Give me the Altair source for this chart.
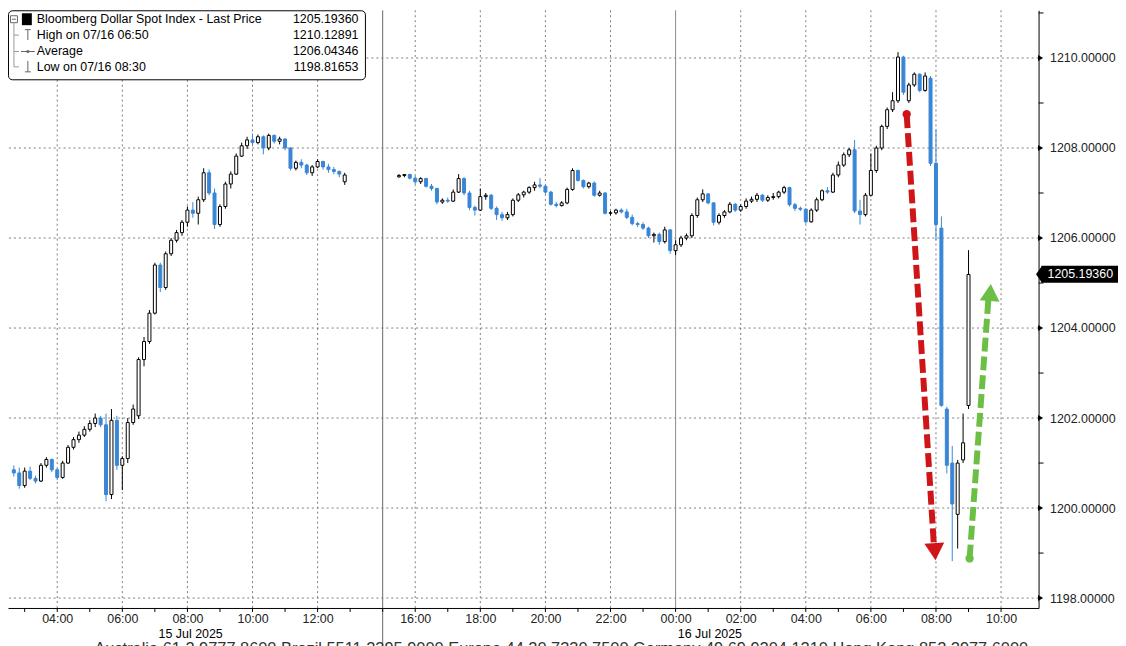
import altair as alt
import pandas as pd

# ---------------- data (10-minute bars) ----------------
SESSION1 = ("2025-07-15 02:40", "2025-07-15 12:50")
SESSION2 = ("2025-07-15 15:30", "2025-07-16 09:00")

open1 = [1200.85, 1200.78, 1200.50, 1200.82, 1200.66, 1200.60, 1200.95, 1201.08, 1200.85, 1200.68,
         1201.00, 1201.35, 1201.52, 1201.62, 1201.75, 1201.88, 1202.00, 1201.85, 1200.30, 1201.95,
         1200.95, 1201.10, 1201.90, 1202.05, 1203.30, 1203.70, 1204.33, 1205.40, 1204.90, 1205.65,
         1205.95, 1206.12, 1206.35, 1206.62, 1206.55, 1206.85, 1207.45, 1207.00, 1206.30, 1206.70,
         1207.20, 1207.42, 1207.82, 1208.05, 1208.18, 1208.12, 1208.25, 1208.00, 1208.28, 1208.15,
         1208.20, 1208.00, 1207.55, 1207.68, 1207.62, 1207.45, 1207.58, 1207.70, 1207.58, 1207.52,
         1207.48, 1207.25]
high1 = [1200.95, 1200.90, 1200.90, 1200.92, 1200.72, 1201.00, 1201.13, 1201.10, 1200.88, 1201.05,
         1201.40, 1201.58, 1201.70, 1201.82, 1201.95, 1202.10, 1202.05, 1202.10, 1202.20, 1202.05,
         1201.15, 1202.00, 1202.30, 1203.35, 1203.80, 1204.40, 1205.45, 1205.45, 1205.70, 1206.00,
         1206.18, 1206.40, 1206.70, 1206.80, 1206.92, 1207.55, 1207.52, 1207.10, 1206.75, 1207.25,
         1207.48, 1207.88, 1208.12, 1208.25, 1208.32, 1208.30, 1208.28, 1208.32, 1208.30, 1208.25,
         1208.22, 1208.02, 1207.72, 1207.75, 1207.65, 1207.62, 1207.75, 1207.72, 1207.65, 1207.58,
         1207.50, 1207.45]
low1 = [1200.70, 1200.43, 1200.45, 1200.62, 1200.55, 1200.58, 1200.90, 1200.80, 1200.62, 1200.65,
        1200.98, 1201.30, 1201.45, 1201.58, 1201.70, 1201.80, 1201.80, 1200.15, 1200.20, 1200.85,
        1200.40, 1201.00, 1201.85, 1201.98, 1203.15, 1203.65, 1204.30, 1204.80, 1204.85, 1205.60,
        1205.90, 1206.05, 1206.25, 1206.45, 1206.30, 1206.80, 1206.95, 1206.20, 1206.25, 1206.65,
        1207.10, 1207.40, 1207.80, 1207.98, 1208.05, 1208.08, 1207.86, 1207.95, 1208.10, 1208.08,
        1207.95, 1207.50, 1207.50, 1207.55, 1207.40, 1207.38, 1207.55, 1207.52, 1207.45, 1207.42,
        1207.35, 1207.18]
close1 = [1200.78, 1200.50, 1200.82, 1200.66, 1200.60, 1200.95, 1201.08, 1200.85, 1200.68, 1201.00,
          1201.35, 1201.52, 1201.62, 1201.75, 1201.88, 1202.00, 1201.85, 1200.30, 1201.95, 1200.95,
          1201.10, 1201.90, 1202.20, 1203.30, 1203.70, 1204.33, 1205.40, 1204.90, 1205.65, 1205.95,
          1206.12, 1206.35, 1206.62, 1206.55, 1206.85, 1207.45, 1207.00, 1206.30, 1206.70, 1207.20,
          1207.42, 1207.82, 1208.05, 1208.18, 1208.12, 1208.25, 1208.00, 1208.28, 1208.15, 1208.20,
          1208.00, 1207.55, 1207.68, 1207.62, 1207.45, 1207.58, 1207.70, 1207.58, 1207.52, 1207.48,
          1207.42, 1207.40]

open2 = [1207.36, 1207.39, 1207.41, 1207.33, 1207.25, 1207.32, 1207.15, 1207.10, 1206.80, 1206.84,
         1206.82, 1207.02, 1207.32, 1207.00, 1206.68, 1206.62, 1206.92, 1206.95, 1206.66, 1206.52,
         1206.45, 1206.52, 1206.84, 1206.96, 1207.02, 1207.12, 1207.18, 1207.15, 1207.02, 1206.75,
         1206.72, 1206.78, 1207.08, 1207.50, 1207.28, 1207.14, 1207.22, 1206.95, 1207.00, 1206.55,
         1206.56, 1206.62, 1206.58, 1206.46, 1206.32, 1206.30, 1206.22, 1206.05, 1206.08, 1205.92,
         1206.18, 1205.72, 1205.85, 1206.00, 1206.05, 1206.50, 1206.85, 1206.98, 1206.78, 1206.35,
         1206.50, 1206.58, 1206.75, 1206.62, 1206.70, 1206.82, 1206.86, 1206.95, 1206.84, 1206.90,
         1206.92, 1207.02, 1207.12, 1206.74, 1206.66, 1206.64, 1206.36, 1206.62, 1206.85, 1207.05,
         1207.02, 1207.40, 1207.62, 1207.85, 1207.96, 1206.60, 1206.52, 1206.95, 1207.50, 1208.00,
         1208.48, 1208.85, 1209.05, 1210.02, 1209.05, 1209.40, 1209.64, 1209.28, 1209.55, 1207.66,
         1206.22, 1202.20, 1201.00, 1199.86, 1201.07, 1202.28]
high2 = [1207.42, 1207.42, 1207.43, 1207.38, 1207.35, 1207.34, 1207.20, 1207.12, 1206.88, 1206.90,
         1207.08, 1207.42, 1207.35, 1207.05, 1206.72, 1207.10, 1207.00, 1206.98, 1206.70, 1206.58,
         1206.58, 1206.88, 1207.00, 1207.05, 1207.15, 1207.25, 1207.33, 1207.18, 1207.05, 1206.80,
         1206.82, 1207.12, 1207.55, 1207.52, 1207.30, 1207.25, 1207.26, 1207.05, 1207.02, 1206.60,
         1206.65, 1206.66, 1206.65, 1206.52, 1206.36, 1206.35, 1206.25, 1206.12, 1206.12, 1206.25,
         1206.20, 1205.95, 1206.05, 1206.10, 1206.55, 1206.90, 1207.08, 1207.00, 1206.80, 1206.55,
         1206.62, 1206.80, 1206.78, 1206.75, 1206.88, 1206.92, 1207.00, 1206.98, 1206.95, 1207.00,
         1207.05, 1207.16, 1207.14, 1206.78, 1206.70, 1206.66, 1206.66, 1206.90, 1207.08, 1207.13,
         1207.45, 1207.70, 1207.90, 1208.00, 1208.18, 1206.85, 1207.00, 1207.88, 1208.05, 1208.52,
         1208.90, 1209.24, 1210.13, 1210.05, 1209.45, 1209.68, 1209.66, 1209.68, 1209.60, 1208.41,
         1206.48, 1202.25, 1201.38, 1201.07, 1202.10, 1205.73]
low2 = [1207.34, 1207.35, 1207.30, 1207.20, 1207.20, 1207.12, 1207.05, 1206.75, 1206.76, 1206.78,
        1206.80, 1207.00, 1206.95, 1206.62, 1206.50, 1206.60, 1206.85, 1206.62, 1206.40, 1206.38,
        1206.40, 1206.48, 1206.80, 1206.90, 1206.98, 1207.05, 1207.10, 1206.98, 1206.72, 1206.68,
        1206.70, 1206.75, 1207.05, 1207.25, 1207.10, 1207.10, 1206.92, 1206.92, 1206.52, 1206.50,
        1206.52, 1206.55, 1206.42, 1206.28, 1206.24, 1206.18, 1206.00, 1205.90, 1205.85, 1205.88,
        1205.65, 1205.62, 1205.80, 1205.95, 1206.00, 1206.45, 1206.80, 1206.75, 1206.28, 1206.30,
        1206.45, 1206.55, 1206.58, 1206.58, 1206.65, 1206.78, 1206.80, 1206.80, 1206.80, 1206.85,
        1206.88, 1206.98, 1206.70, 1206.60, 1206.60, 1206.32, 1206.34, 1206.58, 1206.82, 1206.98,
        1207.00, 1207.35, 1207.58, 1207.80, 1206.55, 1206.30, 1206.48, 1206.92, 1207.45, 1207.95,
        1208.42, 1208.80, 1209.00, 1209.18, 1209.00, 1209.36, 1209.24, 1209.25, 1207.60, 1205.95,
        1202.25, 1200.77, 1198.82, 1199.10, 1201.00, 1202.20]
close2 = [1207.39, 1207.41, 1207.33, 1207.25, 1207.32, 1207.15, 1207.10, 1206.80, 1206.84, 1206.82,
          1207.02, 1207.32, 1207.00, 1206.68, 1206.62, 1206.92, 1206.95, 1206.66, 1206.52, 1206.45,
          1206.52, 1206.84, 1206.96, 1207.02, 1207.12, 1207.18, 1207.15, 1207.02, 1206.75, 1206.72,
          1206.78, 1207.08, 1207.50, 1207.28, 1207.14, 1207.22, 1206.95, 1207.00, 1206.55, 1206.56,
          1206.62, 1206.58, 1206.46, 1206.32, 1206.30, 1206.22, 1206.05, 1206.08, 1205.92, 1206.18,
          1205.72, 1205.85, 1206.00, 1206.05, 1206.50, 1206.85, 1206.98, 1206.78, 1206.35, 1206.50,
          1206.58, 1206.75, 1206.62, 1206.70, 1206.82, 1206.86, 1206.95, 1206.84, 1206.90, 1206.92,
          1207.02, 1207.12, 1206.74, 1206.66, 1206.64, 1206.36, 1206.62, 1206.85, 1207.05, 1207.02,
          1207.40, 1207.62, 1207.85, 1207.96, 1206.60, 1206.52, 1206.95, 1207.50, 1208.00, 1208.48,
          1208.85, 1209.05, 1210.02, 1209.24, 1209.40, 1209.64, 1209.28, 1209.60, 1207.66, 1206.30,
          1202.28, 1200.95, 1200.09, 1201.00, 1201.45, 1205.19]

LAST_PRICE = 1205.1936
legend_labels = ["Bloomberg Dollar Spot Index - Last Price", "High on 07/16 06:50",
                 "Average", "Low on 07/16 08:30"]
legend_values = ["1205.19360", "1210.12891", "1206.04346", "1198.81653"]

y_grid_values = [1198, 1200, 1202, 1204, 1206, 1208, 1210]
y_minor_values = [1199, 1201, 1203, 1205, 1207, 1209, 1211]
x_tick_times = ["2025-07-15 04:00", "2025-07-15 06:00", "2025-07-15 08:00", "2025-07-15 10:00",
                "2025-07-15 12:00", "2025-07-15 16:00", "2025-07-15 18:00", "2025-07-15 20:00",
                "2025-07-15 22:00", "2025-07-16 00:00", "2025-07-16 02:00", "2025-07-16 04:00",
                "2025-07-16 06:00", "2025-07-16 08:00", "2025-07-16 10:00"]
x_tick_labels = ["04:00", "06:00", "08:00", "10:00", "12:00", "16:00", "18:00", "20:00",
                 "22:00", "00:00", "02:00", "04:00", "06:00", "08:00", "10:00"]
date_labels = ["15 Jul 2025", "16 Jul 2025"]
DAY_BREAK = "2025-07-16 00:00"
SESSION_BREAK = "2025-07-15 15:00"
footer = ("Australia 61 2 9777 8600 Brazil 5511 2395 9000 Europe 44 20 7330 7500 "
          "Germany 49 69 9204 1210 Hong Kong 852 2977 6000")

red_arrow_times = ["2025-07-16 07:06", "2025-07-16 07:56"]
red_arrow_values = [1208.75, 1199.20]
red_head = ("2025-07-16 07:58", 1199.03)
green_arrow_times = ["2025-07-16 09:02", "2025-07-16 09:37"]
green_arrow_values = [1198.88, 1204.70]
green_head = ("2025-07-16 09:40", 1204.79)

# ---------------- helpers ----------------
ORIGIN = pd.Timestamp("2025-07-15 00:00")


def session_hours(ts):
    """Hours since 15 Jul 00:00 with the 14:00-15:00 session break removed."""
    h = (pd.Timestamp(ts) - ORIGIN).total_seconds() / 3600.0
    return h - 1.0 if h >= 15 else h


t1 = pd.date_range(SESSION1[0], SESSION1[1], freq="10min")
t2 = pd.date_range(SESSION2[0], SESSION2[1], freq="10min")
bars = pd.DataFrame({
    "t": list(t1) + list(t2),
    "open": open1 + open2,
    "high": high1 + high2,
    "low": low1 + low2,
    "close": close1 + close2,
})
bars["u"] = [session_hours(t) for t in bars["t"]]
bars["t"] = bars["t"].dt.strftime("%Y-%m-%d %H:%M")

BLUE = "#3a86d6"
GRID = "#7d7d7d"
FONT = "Liberation Sans"
W, H = 1038, 602

x_scale = alt.Scale(domain=[2.64, 34.0], nice=False, zero=False)
y_scale = alt.Scale(domain=[1197.78, 1211.06], nice=False, zero=False)

tick_u = [session_hours(t) for t in x_tick_times]
label_expr = " : ".join(f"datum.value == {u:g} ? '{lab}'" for u, lab in zip(tick_u, x_tick_labels)) + " : ''"

x_axis = alt.Axis(values=tick_u, labelExpr=label_expr, grid=False, ticks=False, domain=True,
                  domainColor="black", labelPadding=5, labelFontSize=12.5, title=None,
                  labelFont=FONT, labelColor="#222222")
y_axis = alt.Axis(orient="right", values=y_grid_values, format=".5f", grid=False, ticks=False,
                  domain=True, domainColor="black", labelPadding=11, labelFontSize=12.5,
                  title=None, labelFont=FONT, labelColor="#222222")


def X(field):
    return alt.X(field, type="quantitative", scale=x_scale, axis=x_axis, title=None)


def Y(field):
    return alt.Y(field, type="quantitative", scale=y_scale, axis=y_axis, title=None)


one = pd.DataFrame({"k": [0]})
up = "datum.close >= datum.open"


def seg(x1, x2, y1, y2, color, width=1.0):
    return alt.Chart(one).mark_rule(color=color, strokeWidth=width).encode(
        x=alt.value(x1), x2=alt.value(x2), y=alt.value(y1), y2=alt.value(y2))


def label(txt, x, y, size=12.5, align="left", color="black", baseline="middle"):
    return alt.Chart(one).mark_text(text=txt, align=align, baseline=baseline, font=FONT,
                                    fontSize=size, color=color).encode(x=alt.value(x), y=alt.value(y))


layers = []

# candles (they carry the axes)
base = alt.Chart(bars)
wicks = base.mark_rule(strokeWidth=1, clip=True).encode(
    x=X("u"), y=Y("low"), y2="high",
    color=alt.condition(up, alt.value("black"), alt.value(BLUE)),
)
bodies = base.mark_bar(size=3, strokeWidth=1, clip=True).encode(
    x=X("u"), y=Y("open"), y2="close",
    fill=alt.condition(up, alt.value("white"), alt.value(BLUE)),
    stroke=alt.condition(up, alt.value("black"), alt.value(BLUE)),
)

# grid
hgrid = alt.Chart(pd.DataFrame({"v": y_grid_values})).mark_rule(
    color=GRID, strokeDash=[2, 3], strokeWidth=1).encode(y=Y("v"))
grid_u = [u for u, t in zip(tick_u, x_tick_times) if t != DAY_BREAK]
vgrid = alt.Chart(pd.DataFrame({"u": grid_u})).mark_rule(
    color=GRID, strokeDash=[2, 3], strokeWidth=1).encode(x=X("u"))
dayline = alt.Chart(pd.DataFrame({"u": [session_hours(DAY_BREAK)]})).mark_rule(
    color="#8a8a8a", strokeWidth=1).encode(x=X("u"))
breakline = alt.Chart(pd.DataFrame({"u": [session_hours(SESSION_BREAK)]})).mark_rule(
    color="#6a6a6a", strokeWidth=1).encode(x=X("u"), y=alt.value(0), y2=alt.value(H + 40))
hour_ticks = alt.Chart(pd.DataFrame({"u": list(range(3, 34))})).mark_rule(
    color="black", strokeWidth=1).encode(x=X("u"), y=alt.value(H), y2=alt.value(H + 4))
layers += [hgrid, vgrid, dayline, breakline, hour_ticks, wicks, bodies]

# y-axis tick markers
ytri = alt.Chart(pd.DataFrame({"v": y_grid_values})).mark_point(
    shape="triangle-right", filled=True, size=36, color="black", opacity=1).encode(
    x=alt.value(W + 2), y=Y("v"))
yminor = alt.Chart(pd.DataFrame({"v": y_minor_values})).mark_rule(color="black").encode(
    x=alt.value(W), x2=alt.value(W + 5), y=Y("v"))
layers += [ytri, yminor]


# arrows
def arrow(times, values, head, color, shape, angle):
    df = pd.DataFrame({"u": [session_hours(times[0])], "u2": [session_hours(times[1])],
                       "v": [values[0]], "v2": [values[1]]})
    line = alt.Chart(df).mark_rule(color=color, strokeWidth=6, strokeDash=[14, 5],
                                   strokeCap="butt").encode(
        x=X("u"), x2="u2:Q", y=Y("v"), y2="v2:Q")
    dot = alt.Chart(df).mark_point(shape="circle", filled=True, size=70, color=color,
                                   opacity=1).encode(x=X("u"), y=Y("v"))
    hdf = pd.DataFrame({"u": [session_hours(head[0])], "v": [head[1]]})
    tip = alt.Chart(hdf).mark_point(shape=shape, filled=True, size=400, color=color,
                                    opacity=1, angle=angle).encode(x=X("u"), y=Y("v"))
    return [line, dot, tip]


layers += arrow(red_arrow_times, red_arrow_values, red_head, "#cf1518", "triangle-down", 356)
layers += arrow(green_arrow_times, green_arrow_values, green_head, "#6cbf45", "triangle-up", 4)

# last price tag on the axis
lp = pd.DataFrame({"v": [LAST_PRICE], "txt": [f"{LAST_PRICE:.5f}"]})
lp_box = alt.Chart(lp).mark_rect(color="black", yOffset=-8.5, y2Offset=8.5).encode(
    x=alt.value(W + 3), x2=alt.value(W + 80), y=Y("v"), y2="v:Q")
lp_notch = alt.Chart(lp).mark_point(shape="M0,-1L-0.7,0L0,1Z", filled=True, size=300,
                                    color="black", opacity=1).encode(
    x=alt.value(W + 3.5), y=Y("v"))
lp_text = alt.Chart(lp).mark_text(align="left", baseline="middle", font=FONT, fontSize=12.5,
                                  color="white").encode(
    x=alt.value(W + 9), y=Y("v"), text="txt:N")
layers += [lp_box, lp_notch, lp_text]

# legend box (top-left)
legend_box = alt.Chart(one).mark_rect(fill="white", stroke="black", strokeWidth=1,
                                      cornerRadius=4).encode(
    x=alt.value(0.5), x2=alt.value(360), y=alt.value(0.5), y2=alt.value(70))
layers.append(legend_box)
ICON = "#666666"
layers += [
    alt.Chart(one).mark_rect(fill="white", stroke=ICON, strokeWidth=1).encode(
        x=alt.value(2.5), x2=alt.value(9.5), y=alt.value(5.5), y2=alt.value(12.5)),
    seg(4, 8, 9, 9, ICON),
    seg(6, 6, 12.5, 57, "#999999"),
    seg(6, 11, 25, 25, "#999999"),
    seg(6, 11, 41.5, 41.5, "#999999"),
    seg(6, 11, 57, 57, "#999999"),
    alt.Chart(one).mark_rect(fill="black").encode(
        x=alt.value(14), x2=alt.value(24), y=alt.value(3), y2=alt.value(15)),
    seg(17, 23, 19.5, 19.5, ICON), seg(20, 20, 19.5, 30, ICON),
    seg(13, 27, 41.5, 41.5, ICON),
    alt.Chart(one).mark_point(shape="circle", size=10, color=ICON, filled=True, opacity=1).encode(
        x=alt.value(20), y=alt.value(41.5)),
    seg(20, 20, 51, 62, ICON), seg(17, 23, 62, 62, ICON),
]
row_y = [9, 25, 41, 57]
for txt, val, ry in zip(legend_labels, legend_values, row_y):
    layers.append(label(txt, 29, ry))
    layers.append(label(val, 353, ry, align="right"))

# date labels and footer below the axis
layers.append(label(date_labels[0], 184, 628, align="center"))
layers.append(label(date_labels[1], 707, 628, align="center"))
layers.append(label(footer, 87, 643, size=16.5, color="#333333"))

chart = alt.layer(*layers).properties(
    width=W, height=H,
    autosize=alt.AutoSizeParams(type="none"),
    padding={"left": 0, "top": 0, "right": 80, "bottom": 36},
).configure_view(stroke=None)

chart.save("out.html", embed_options={"renderer": "svg", "actions": False})
